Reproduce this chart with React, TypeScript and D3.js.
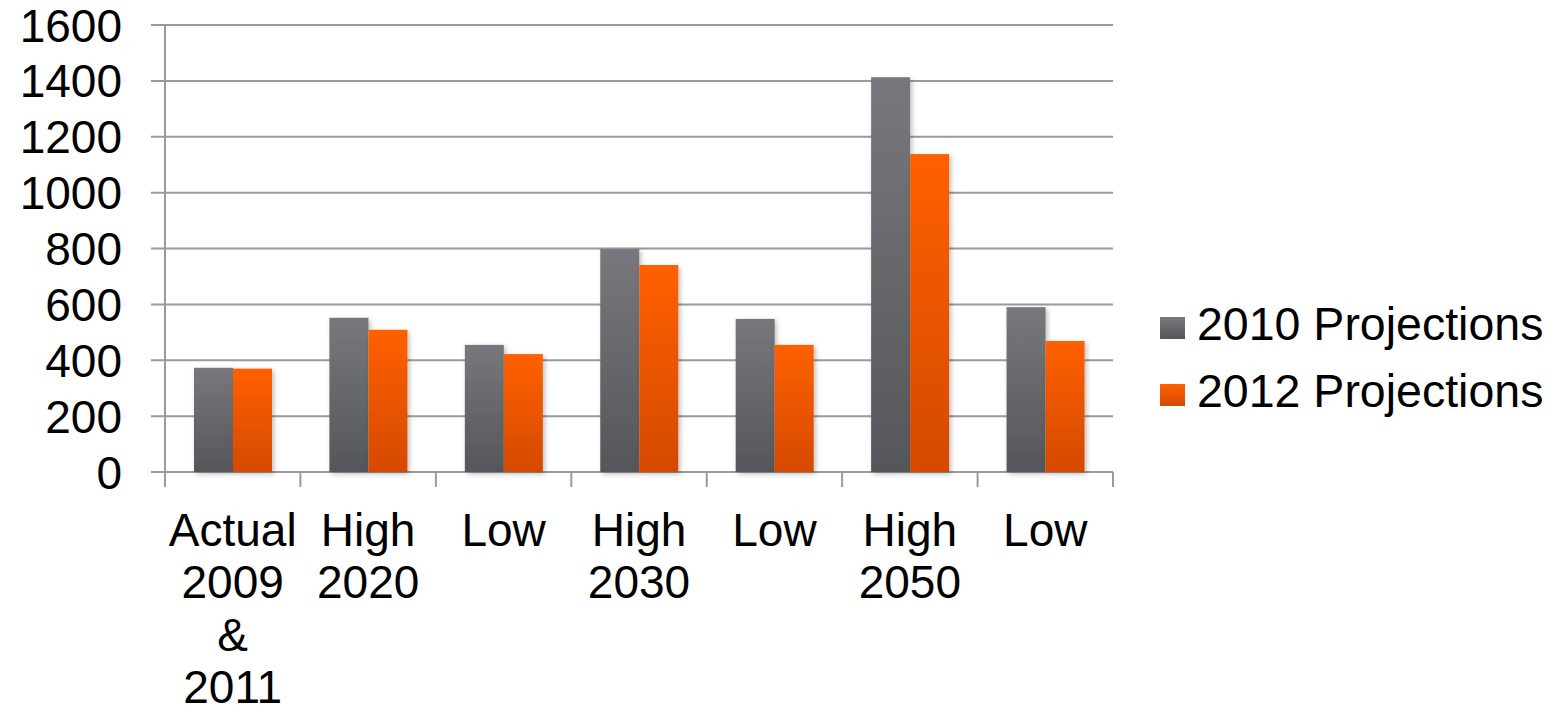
import React from "react";
import * as d3 from "d3";

const categories: string[][] = [
  ["Actual", "2009", "&", "2011"],
  ["High", "2020"],
  ["Low"],
  ["High", "2030"],
  ["Low"],
  ["High", "2050"],
  ["Low"],
];
const series = ["2010 Projections", "2012 Projections"];
const values2010 = [373, 552, 455, 798, 548, 1413, 590];
const values2012 = [370, 509, 422, 741, 455, 1138, 469];
const yTicks = [0, 200, 400, 600, 800, 1000, 1200, 1400, 1600];

const W = 1561;
const H = 713;
const plot = { left: 165, right: 1113, top: 25, bottom: 472 };
const FONT = "'Liberation Sans', Arial, sans-serif";

export default function App() {
  const x = d3
    .scaleBand<number>()
    .domain(categories.map((_, i) => i))
    .range([plot.left, plot.right])
    .paddingInner(0)
    .paddingOuter(0);
  const y = d3.scaleLinear().domain([0, 1600]).range([plot.bottom, plot.top]);
  const bw = x.bandwidth();
  const barW = bw * 0.288;
  const offset = bw * 0.214;
  const data = [values2010, values2012];
  const grads = ["gGray", "gOrange"];

  return (
    <svg width={W} height={H} style={{ position: "absolute", left: 0, top: 0, background: "#fff" }}>
      <defs>
        <linearGradient id="gGray" x1="0" y1="0" x2="0" y2="1">
          <stop offset="0" stopColor="#77787c" />
          <stop offset="1" stopColor="#55565a" />
        </linearGradient>
        <linearGradient id="gOrange" x1="0" y1="0" x2="0" y2="1">
          <stop offset="0" stopColor="#ff6000" />
          <stop offset="1" stopColor="#d44a00" />
        </linearGradient>
        <filter id="shadow" x="-20%" y="-10%" width="140%" height="120%">
          <feDropShadow dx="2" dy="2" stdDeviation="2.5" floodColor="#000" floodOpacity="0.25" />
        </filter>
      </defs>
      {/* gridlines */}
      {yTicks.map((t) => (
        <line
          key={t}
          x1={plot.left - 14}
          x2={plot.right}
          y1={y(t)}
          y2={y(t)}
          stroke="#9a9a9a"
          strokeWidth={2}
        />
      ))}
      {/* y axis line */}
      <line x1={plot.left} x2={plot.left} y1={plot.top} y2={plot.bottom + 15} stroke="#9a9a9a" strokeWidth={2} />
      {/* x category ticks */}
      {categories.map((_, i) => (
        <line
          key={i}
          x1={(x(i) as number) + bw}
          x2={(x(i) as number) + bw}
          y1={plot.bottom}
          y2={plot.bottom + 15}
          stroke="#9a9a9a"
          strokeWidth={2}
        />
      ))}
      {/* y tick labels */}
      {yTicks.map((t) => (
        <text
          key={t}
          x={122}
          y={y(t)}
          dy="0.36em"
          textAnchor="end"
          fontFamily={FONT}
          fontSize={46}
          fill="#000"
        >
          {t}
        </text>
      ))}
      {/* bars */}
      {data.map((vals, s) =>
        vals.map((v, i) => (
          <rect
            key={`${s}-${i}`}
            x={(x(i) as number) + offset + s * barW}
            y={y(v)}
            width={barW}
            height={plot.bottom - y(v)}
            fill={`url(#${grads[s]})`}
            filter="url(#shadow)"
          />
        ))
      )}
      {/* category labels */}
      {categories.map((lines, i) => (
        <text
          key={i}
          x={(x(i) as number) + bw / 2}
          y={546}
          textAnchor="middle"
          fontFamily={FONT}
          fontSize={46}
          fill="#000"
        >
          {lines.map((l, j) => (
            <tspan key={j} x={(x(i) as number) + bw / 2} dy={j === 0 ? 0 : 52.3}>
              {l}
            </tspan>
          ))}
        </text>
      ))}
      {/* legend */}
      {series.map((name, s) => (
        <g key={name} transform={`translate(1160, ${317 + s * 67})`}>
          <rect width={25} height={22} fill={`url(#${grads[s]})`} />
          <text x={37} y={23} fontFamily={FONT} fontSize={46.5} fill="#000">
            {name}
          </text>
        </g>
      ))}
    </svg>
  );
}
